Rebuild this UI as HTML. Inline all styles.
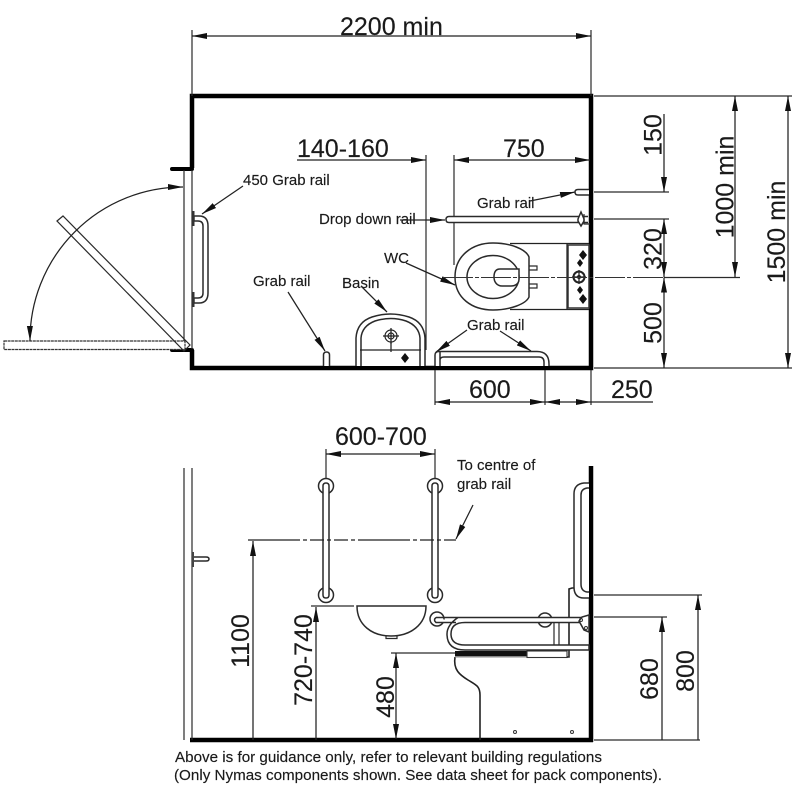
<!DOCTYPE html>
<html><head><meta charset="utf-8"><style>
html,body{margin:0;padding:0;background:#fff}
svg{display:block}
text{font-family:"Liberation Sans",sans-serif;fill:#1a1a1a;stroke:#1a1a1a;stroke-width:.15}
.b{font-size:25px}.s{font-size:15px}.n{font-size:15.2px}
.l{stroke:#222;stroke-width:1.25;fill:none}
.t{stroke:#2a2a2a;stroke-width:1.2;fill:none}
.o{stroke:#2a2a2a;stroke-width:1.5;fill:#fff}
.w{stroke:#000;stroke-width:4.5;fill:none}
.d{stroke:#222;stroke-width:1.25;fill:none;marker-start:url(#a);marker-end:url(#a)}
.e{stroke:#222;stroke-width:1.25;fill:none;marker-end:url(#a)}
.h{fill:#111}
</style></head><body>
<svg width="800" height="800" viewBox="0 0 800 800" xmlns="http://www.w3.org/2000/svg">
<defs>
<marker id="a" markerUnits="userSpaceOnUse" markerWidth="16" markerHeight="8" refX="15" refY="4" orient="auto-start-reverse"><path d="M0 1 L15 4 L0 7 Z" fill="#111"/></marker>
</defs>

<!-- PLAN walls -->
<path class="w" d="M192 168V96H591V368H192V350"/>
<path d="M172 169H192M172 350H192" stroke="#000" stroke-width="4" fill="none" stroke-linecap="round"/>
<path class="t" d="M184 170V349M192 170V349"/>
<!-- doors -->
<rect x="4" y="341" width="181" height="8.5" fill="#fff" stroke="#333" stroke-width="1.2" stroke-dasharray="3 .6"/>
<path class="t" d="M57 221L63 216L190 345L184 351Z" fill="#fff"/>
<path class="e" d="M30 341A153 153 0 0 1 183 187" style="marker-start:url(#a)"/>

<!-- 2200 -->
<text class="b" x="340" y="35">2200 min</text>
<path class="t" d="M192 30V96M591 30V96"/>
<path class="d" d="M192 36H591"/>

<!-- 140-160 / 750 -->
<text class="b" x="297" y="157">140-160</text>
<text class="b" x="503" y="157">750</text>
<path class="e" d="M297 160H426"/>
<path class="d" d="M454 160H590"/>
<path class="t" d="M426 155V350M454 155V265"/>

<!-- 450 rail -->
<text class="s" x="243" y="185">450 Grab rail</text>
<path class="e" d="M243 186L202 214"/>
<path class="o" d="M194 216H199Q208 216 208 226V293Q208 303 199 303H194V298H198Q203 298 203 293V226Q203 221 198 221H194Z"/>
<rect x="192" y="211" width="2.5" height="15" fill="#333"/>
<rect x="192" y="292" width="2.5" height="15" fill="#333"/>

<!-- Left small grab rail -->
<text class="s" x="253" y="286">Grab rail</text>
<path class="e" d="M288 292L325 351"/>
<path class="o" d="M323.500 366V355Q323.500 352 326.500 352Q329.500 352 329.500 355V366"/>

<!-- Basin -->
<text class="s" x="342" y="288">Basin</text>
<path class="e" d="M361 286L387 312"/>
<path class="o" stroke-width="1.4" d="M356 366V338Q357 322 372 317Q390 311 409 317Q424 322 425 338V366"/>
<path class="o" fill="none" d="M361 366V338Q362 326 375 321Q391 316 406 321Q419 326 420 338V366"/>
<path class="l" d="M360 350H421M391 336V352"/>
<circle cx="391" cy="336" r="6" fill="#fff" stroke="#222" stroke-width="1.2"/>
<circle cx="391" cy="336" r="3" fill="none" stroke="#222" stroke-width="1.2"/>
<path class="l" d="M383 336H399M391 328V344"/>
<path class="h" d="M405 353L409 358L405 363L401 358Z"/>

<!-- Drop down rail -->
<text class="s" x="319" y="224">Drop down rail</text>
<path class="e" d="M400 220H445"/>
<path class="o" d="M588 216.500H449Q446 216.500 446 219.500Q446 222.500 449 222.500H588"/>
<path class="o" d="M578 219L581 212L584 219V221L581 226L578 221Z" fill="#555"/>
<path class="t" d="M584 214V224H590"/>

<!-- top Grab rail -->
<text class="s" x="477" y="208">Grab rail</text>
<path class="e" d="M530 201L575 192"/>
<path class="o" d="M589 189.500H578Q575 189.500 575 192Q575 195 578 195H589"/>
<path class="t" d="M594 192H669M594 219H669"/>

<!-- WC -->
<text class="s" x="384" y="263">WC</text>
<path class="e" d="M406 263L455 285"/>
<path class="l" stroke-width="1.5" d="M510 243.500H589M510 309.500H589M567 244V309"/>
<path class="o" d="M455 277C455 256 472 243 493 243C510 243 526 249 529 257V297C526 304 510 310 493 310C472 310 455 298 455 277Z"/>
<ellipse cx="493" cy="277" rx="26" ry="21.500" class="o"/>
<path class="o" d="M500 269H519V279C519 284 515 286 511 286H502C497 286 494 282 494 277C494 272 496 269 500 269Z"/>
<path class="t" d="M529 266H537V270H529M529 284H537V288H529"/>
<rect x="568" y="245" width="21" height="63" fill="#fff" stroke="#333" stroke-width="1.5"/>
<path class="h" d="M583 250L587 255L583 260L579 255ZM580 259L583 263L580 267L577 263ZM580 286L583 290L580 294L577 290ZM583 294L587 299L583 304L579 299Z"/>
<circle cx="579" cy="277" r="5.500" fill="none" stroke="#222" stroke-width="2"/>
<circle cx="579" cy="277" r="2" class="h"/>
<path class="l" d="M572 277H586M579 270V284"/>
<path stroke="#333" stroke-width="1.1" fill="none" stroke-dasharray="30 2 4 2" d="M443 277.500H740"/>

<!-- bottom Grab rail -->
<text class="s" x="467" y="330">Grab rail</text>
<path class="e" d="M467 330L436 352"/>
<path class="e" d="M500 331L531 351"/>
<path class="o" fill="none" d="M435 366V355Q435 351.500 439 351.500H537Q549 351.500 549 364V366"/>
<path class="o" fill="none" d="M440 352V366M440 360Q440 357 444 357H539Q544 357 544 362V366"/>

<!-- below plan dims -->
<path class="t" d="M435 370V405M545 370V405M591 370V405"/>
<text class="b" x="469" y="398">600</text>
<text class="b" x="611" y="398">250</text>
<path class="d" d="M435 402H545"/>
<path class="d" d="M545 402H591"/>
<path class="l" d="M591 402H653"/>

<!-- right dims -->
<path class="t" d="M594 96H792M594 368H792M664 277.500H740"/>
<path class="e" d="M664 114V192"/>
<path class="d" d="M664 219V277"/>
<path class="d" d="M664 277.500V368"/>
<path class="d" d="M735 96V277"/>
<path class="d" d="M788 96V368"/>
<text class="b" transform="translate(661.500 135) rotate(-90)" text-anchor="middle">150</text>
<text class="b" transform="translate(661.500 249) rotate(-90)" text-anchor="middle">320</text>
<text class="b" transform="translate(661.500 323) rotate(-90)" text-anchor="middle">500</text>
<text class="b" transform="translate(733.500 187) rotate(-90)" text-anchor="middle">1000 min</text>
<text class="b" transform="translate(785 232) rotate(-90)" text-anchor="middle">1500 min</text>

<!-- ELEVATION -->
<path d="M190 740H593" stroke="#000" stroke-width="4.500"/>
<path d="M591 466V742" stroke="#000" stroke-width="4.500"/>
<path class="t" stroke-width="1.300" d="M184 468V740M192 468V740"/>
<path class="o" d="M193 557H206Q209 557 209 559Q209 561 206 561H193Z"/>
<rect x="192" y="552" width="2" height="15" fill="#444"/>

<!-- 600-700 -->
<text class="b" x="335" y="445">600-700</text>
<path class="t" d="M326 449V482M435 449V482"/>
<path class="d" d="M326 454H435"/>
<text class="s" x="457" y="470">To centre of</text>
<text class="s" x="457" y="489">grab rail</text>
<path class="e" d="M473 505L456 539"/>

<!-- vertical rails -->
<g class="o">
<circle cx="326" cy="486" r="7.500"/><circle cx="435" cy="486" r="7.500"/>
<circle cx="326" cy="595" r="7.500"/><circle cx="435" cy="595" r="7.500"/>
<path d="M323 486Q323 483 326 483Q329 483 329 486V595Q329 598 326 598Q323 598 323 595Z"/>
<path d="M432 486Q432 483 435 483Q438 483 438 486V595Q438 598 435 598Q432 598 432 595Z"/>
</g>
<path stroke="#222" stroke-width="1.300" fill="none" stroke-dasharray="52 3 4 3 14 3 4 3 14 3 4 3" d="M248 540H456"/>
<path class="e" d="M253 740V541"/>
<text class="b" transform="translate(249 641) rotate(-90)" text-anchor="middle">1100</text>

<!-- basin elev -->
<path class="t" d="M311 606H354"/>
<path class="e" d="M316 740V607"/>
<text class="b" transform="translate(312 660) rotate(-90)" text-anchor="middle">720-740</text>
<path class="o" d="M357 606H426C426 625 410 636 391 636C372 636 357 625 357 606Z"/>
<path class="t" d="M386 636V638.500H397V636"/>

<!-- 480 -->
<path class="t" d="M391 653H455"/>
<path class="d" d="M396 653V739"/>
<text class="b" transform="translate(394 697) rotate(-90)" text-anchor="middle">480</text>

<!-- toilet -->
<path d="M455 657C453 670 460 675 468 680C476 685 480 686 480 695V740" fill="none" stroke="#222" stroke-width="1.600"/>
<rect x="455" y="651" width="72" height="5" fill="#111"/>
<rect x="455" y="656" width="72" height="1.500" fill="#888"/>
<rect x="527" y="651" width="40" height="6.500" fill="#fff" stroke="#333" stroke-width="1.100"/>
<path d="M567 657H569V589L572 588H578" fill="none" stroke="#222" stroke-width="1.600"/>
<circle cx="515" cy="732" r="1.500" fill="none" stroke="#333"/>
<circle cx="572" cy="732" r="1.500" fill="none" stroke="#333"/>

<!-- drop-down rail elev -->
<circle cx="437" cy="619" r="7" class="o"/>
<circle cx="545" cy="620" r="7" class="o"/>
<path class="o" fill="#fff" d="M436 617.500H588V622.500H465Q451 622.500 451 634Q451 645 465 645H589V650H465Q447 650 447 634Q447 625 458 617.500Z M436 617.500Q433 620 436 622.500H456"/>
<path class="t" d="M554 622.500V645M559 622.500V645"/>
<path class="o" d="M589 615L582 617L579 621L584 630L589 632Z"/>
<circle cx="581" cy="620" r="1.500" fill="none" stroke="#333"/>
<circle cx="586" cy="628" r="1.500" fill="none" stroke="#333"/>

<!-- wall rail elev -->
<path class="o" fill="none" d="M589 483H584Q574 484 574 494V587Q574 598 584 598H589"/>
<path class="o" fill="none" d="M589 488H587Q581 489 581 495V584Q581 591 587 592H589"/>

<!-- 680 / 800 -->
<path class="t" d="M594 595H702M594 617H667M594 740H700"/>
<path class="e" d="M662 740V617"/>
<path class="e" d="M698 740V595"/>
<text class="b" transform="translate(658 679) rotate(-90)" text-anchor="middle">680</text>
<text class="b" transform="translate(694 671) rotate(-90)" text-anchor="middle">800</text>

<!-- footer -->
<text class="n" x="175" y="762">Above is for guidance only, refer to relevant building regulations</text>
<text class="n" x="174" y="780">(Only Nymas components shown. See data sheet for pack components).</text>
</svg>
</body></html>
